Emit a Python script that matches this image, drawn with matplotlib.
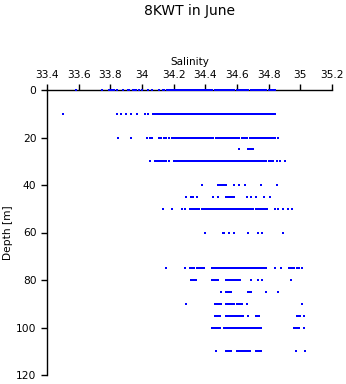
import matplotlib
matplotlib.use("Agg")
import matplotlib.pyplot as plt

plt.rcParams['font.family'] = ['DejaVu Sans']

# salinity readings per sampling depth [m]
sal_0 = [33.58, 33.75, 33.79, 33.80, 33.81, 33.82, 33.84, 33.88, 33.91, 33.92, 33.94, 33.95,
         33.96, 33.98, 34.00, 34.04, 34.06, 34.11, 34.13, 34.14, 34.16, 34.17, 34.18, 34.19,
         34.20, 34.21, 34.22, 34.23, 34.24, 34.25, 34.26, 34.27, 34.28, 34.29, 34.30, 34.31,
         34.32, 34.33, 34.34, 34.35, 34.36, 34.37, 34.38, 34.39, 34.40, 34.41, 34.42, 34.43,
         34.44, 34.46, 34.47, 34.48, 34.49, 34.50, 34.51, 34.52, 34.53, 34.54, 34.55, 34.56,
         34.57, 34.58, 34.60, 34.61, 34.62, 34.63, 34.64, 34.65, 34.66, 34.67, 34.69, 34.70,
         34.71, 34.72, 34.73, 34.74, 34.75, 34.76, 34.77, 34.78, 34.80, 34.81, 34.82, 34.83, 34.84]
sal_10 = [33.50, 33.84, 33.87, 33.90, 33.93, 33.97, 34.02, 34.04, 34.07, 34.08, 34.09, 34.10,
          34.11, 34.12, 34.13, 34.14, 34.15, 34.16, 34.17, 34.18, 34.19, 34.20, 34.21, 34.22,
          34.23, 34.24, 34.25, 34.26, 34.27, 34.28, 34.29, 34.30, 34.31, 34.32, 34.33, 34.34,
          34.35, 34.36, 34.37, 34.38, 34.39, 34.40, 34.41, 34.42, 34.43, 34.44, 34.45, 34.46,
          34.47, 34.48, 34.49, 34.50, 34.51, 34.52, 34.53, 34.54, 34.55, 34.56, 34.57, 34.58,
          34.59, 34.60, 34.61, 34.62, 34.63, 34.64, 34.65, 34.66, 34.67, 34.68, 34.69, 34.70,
          34.71, 34.72, 34.73, 34.74, 34.75, 34.76, 34.77, 34.78, 34.79, 34.80, 34.81, 34.82,
          34.83, 34.84]
sal_20 = [33.85, 33.93, 34.03, 34.05, 34.06, 34.11, 34.12, 34.14, 34.15, 34.17, 34.19, 34.20,
          34.21, 34.22, 34.23, 34.24, 34.25, 34.26, 34.27, 34.28, 34.29, 34.30, 34.31, 34.32,
          34.33, 34.34, 34.35, 34.36, 34.37, 34.38, 34.39, 34.40, 34.41, 34.42, 34.43, 34.44,
          34.45, 34.47, 34.48, 34.49, 34.50, 34.51, 34.52, 34.53, 34.54, 34.55, 34.56, 34.57,
          34.58, 34.59, 34.60, 34.61, 34.63, 34.64, 34.65, 34.66, 34.68, 34.69, 34.70, 34.71,
          34.72, 34.73, 34.74, 34.75, 34.76, 34.77, 34.78, 34.79, 34.80, 34.81, 34.82, 34.83,
          34.84, 34.86]
sal_25 = [34.61, 34.67, 34.68, 34.69, 34.70]
sal_30 = [34.05, 34.08, 34.09, 34.10, 34.11, 34.12, 34.13, 34.14, 34.15, 34.17, 34.20, 34.21,
          34.22, 34.23, 34.24, 34.25, 34.26, 34.27, 34.28, 34.29, 34.30, 34.31, 34.32, 34.33,
          34.34, 34.35, 34.36, 34.37, 34.38, 34.39, 34.40, 34.41, 34.42, 34.43, 34.44, 34.45,
          34.46, 34.47, 34.48, 34.49, 34.50, 34.51, 34.52, 34.53, 34.54, 34.55, 34.56, 34.57,
          34.58, 34.59, 34.60, 34.61, 34.62, 34.63, 34.64, 34.65, 34.66, 34.67, 34.68, 34.69,
          34.70, 34.71, 34.72, 34.73, 34.74, 34.75, 34.76, 34.77, 34.78, 34.80, 34.81, 34.82,
          34.83, 34.85, 34.87, 34.90]
sal_40 = [34.38, 34.48, 34.49, 34.50, 34.51, 34.52, 34.53, 34.58, 34.61, 34.65, 34.75, 34.85]
sal_45 = [34.28, 34.31, 34.32, 34.35, 34.45, 34.48, 34.53, 34.54, 34.55, 34.56, 34.57, 34.58,
          34.66, 34.69, 34.72, 34.77, 34.81]
sal_50 = [34.13, 34.19, 34.25, 34.27, 34.30, 34.31, 34.32, 34.33, 34.34, 34.35, 34.36, 34.38,
          34.39, 34.40, 34.41, 34.42, 34.43, 34.44, 34.45, 34.46, 34.47, 34.48, 34.49, 34.50,
          34.51, 34.52, 34.53, 34.54, 34.55, 34.56, 34.57, 34.58, 34.59, 34.60, 34.61, 34.62,
          34.63, 34.64, 34.65, 34.66, 34.67, 34.68, 34.69, 34.70, 34.72, 34.73, 34.74, 34.75,
          34.76, 34.77, 34.78, 34.79, 34.84, 34.86, 34.89, 34.92, 34.95]
sal_60 = [34.40, 34.51, 34.52, 34.55, 34.58, 34.67, 34.73, 34.76, 34.89]
sal_75 = [34.15, 34.27, 34.30, 34.31, 34.32, 34.33, 34.35, 34.36, 34.37, 34.38, 34.39, 34.44,
          34.45, 34.46, 34.47, 34.48, 34.49, 34.50, 34.51, 34.52, 34.53, 34.54, 34.55, 34.56,
          34.57, 34.58, 34.59, 34.60, 34.61, 34.62, 34.63, 34.64, 34.65, 34.66, 34.67, 34.68,
          34.69, 34.70, 34.71, 34.72, 34.73, 34.74, 34.75, 34.76, 34.77, 34.78, 34.84, 34.88,
          34.93, 34.94, 34.95, 34.96, 34.98, 34.99, 35.01]
sal_80 = [34.31, 34.32, 34.33, 34.34, 34.44, 34.45, 34.46, 34.47, 34.48, 34.53, 34.54, 34.55,
          34.56, 34.57, 34.58, 34.59, 34.60, 34.61, 34.62, 34.69, 34.73, 34.76, 34.94]
sal_85 = [34.50, 34.53, 34.54, 34.55, 34.56, 34.67, 34.68, 34.69, 34.78, 34.86]
sal_90 = [34.28, 34.46, 34.47, 34.48, 34.49, 34.50, 34.53, 34.54, 34.55, 34.56, 34.57, 34.58,
          34.60, 34.61, 34.62, 34.63, 34.66, 35.01]
sal_95 = [34.46, 34.47, 34.48, 34.49, 34.53, 34.54, 34.55, 34.56, 34.57, 34.58, 34.59, 34.60,
          34.61, 34.62, 34.63, 34.64, 34.67, 34.72, 34.73, 34.74, 34.98, 34.99, 35.00, 35.02]
sal_100 = [34.44, 34.45, 34.46, 34.47, 34.48, 34.49, 34.52, 34.53, 34.54, 34.55, 34.56, 34.57,
           34.58, 34.59, 34.60, 34.61, 34.62, 34.63, 34.64, 34.65, 34.66, 34.67, 34.68, 34.69,
           34.70, 34.71, 34.72, 34.73, 34.74, 34.75, 34.96, 34.97, 34.98, 34.99, 35.02]
sal_110 = [34.47, 34.53, 34.54, 34.55, 34.56, 34.60, 34.61, 34.62, 34.63, 34.64, 34.65, 34.66,
           34.67, 34.68, 34.72, 34.73, 34.74, 34.75, 34.97, 35.03]

depths = [0, 10, 20, 25, 30, 40, 45, 50, 60, 75, 80, 85, 90, 95, 100, 110]
salinity = [sal_0, sal_10, sal_20, sal_25, sal_30, sal_40, sal_45, sal_50, sal_60,
            sal_75, sal_80, sal_85, sal_90, sal_95, sal_100, sal_110]

x_ticks = [33.4, 33.6, 33.8, 34.0, 34.2, 34.4, 34.6, 34.8, 35.0, 35.2]
x_labels = ['33.4', '33.6', '33.8', '34', '34.2', '34.4', '34.6', '34.8', '35', '35.2']
y_ticks = [0, 20, 40, 60, 80, 100, 120]

fig = plt.figure(figsize=(3.46, 3.84), dpi=100)
ax = fig.add_axes([47/346, 9/384, 285/346, 285/384])

for d, s in zip(depths, salinity):
    ax.plot(s, [d]*len(s), 's', color='#0000ff', markersize=2.1, markeredgewidth=0,
            linestyle='none', clip_on=False, zorder=3)

ax.set_xlim(33.4, 35.2)
ax.set_ylim(120, 0)
ax.spines['right'].set_visible(False)
ax.spines['bottom'].set_visible(False)
ax.spines['left'].set_linewidth(1.0)
ax.spines['top'].set_linewidth(1.0)
ax.xaxis.tick_top()
ax.xaxis.set_label_position('top')
ax.set_xticks(x_ticks)
ax.set_xticklabels(x_labels)
ax.set_yticks(y_ticks)
ax.tick_params(direction='out', length=4.5, width=1.0, labelsize=7.7, pad=3.0)
ax.set_xlabel("Salinity", fontsize=7.5, labelpad=3)
ax.set_ylabel("Depth [m]", fontsize=7.7, labelpad=2.5)

fig.text(189.5/346, 1 - 3.5/384, "8KWT in June", ha='center', va='top', fontsize=10)

fig.savefig("out.png", dpi=100)
